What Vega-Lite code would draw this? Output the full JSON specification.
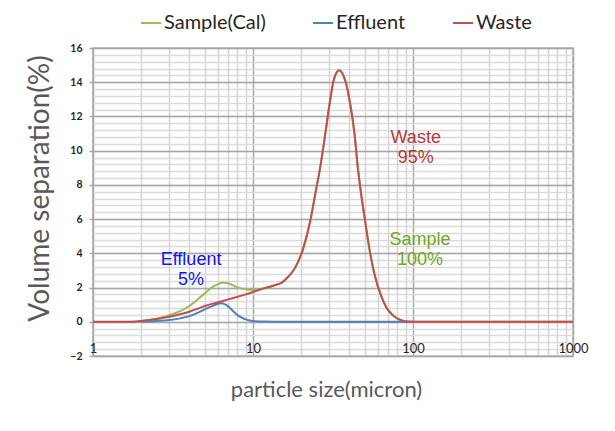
{
  "$schema": "https://vega.github.io/schema/vega-lite/v6.json",
  "width": 480,
  "height": 308,
  "autosize": "none",
  "padding": {"left": 93, "top": 48, "right": 42, "bottom": 75},
  "background": "white",
  "config": {
    "font": "Lato",
    "view": {"stroke": "#a6a6a6", "strokeWidth": 1.5}
  },
  "datasets": {
    "curves": [
      {"series": "Sample(Cal)", "size": 2, "volume": 0.05},
      {"series": "Sample(Cal)", "size": 2.5, "volume": 0.18},
      {"series": "Sample(Cal)", "size": 3, "volume": 0.39},
      {"series": "Sample(Cal)", "size": 3.5, "volume": 0.62},
      {"series": "Sample(Cal)", "size": 4, "volume": 0.92},
      {"series": "Sample(Cal)", "size": 4.5, "volume": 1.3},
      {"series": "Sample(Cal)", "size": 5, "volume": 1.66},
      {"series": "Sample(Cal)", "size": 5.5, "volume": 2.0},
      {"series": "Sample(Cal)", "size": 6, "volume": 2.19},
      {"series": "Sample(Cal)", "size": 6.5, "volume": 2.28},
      {"series": "Sample(Cal)", "size": 7, "volume": 2.25},
      {"series": "Sample(Cal)", "size": 7.5, "volume": 2.13},
      {"series": "Sample(Cal)", "size": 8, "volume": 2.01},
      {"series": "Sample(Cal)", "size": 9, "volume": 1.9},
      {"series": "Sample(Cal)", "size": 10, "volume": 1.86},
      {"series": "Sample(Cal)", "size": 11, "volume": 1.9},
      {"series": "Sample(Cal)", "size": 12, "volume": 1.99},
      {"series": "Sample(Cal)", "size": 13.5, "volume": 2.12},
      {"series": "Sample(Cal)", "size": 15.2, "volume": 2.3},
      {"series": "Sample(Cal)", "size": 16.5, "volume": 2.6},
      {"series": "Sample(Cal)", "size": 18.4, "volume": 3.18},
      {"series": "Sample(Cal)", "size": 20.7, "volume": 4.35},
      {"series": "Sample(Cal)", "size": 22.8, "volume": 5.9},
      {"series": "Sample(Cal)", "size": 24.5, "volume": 7.47},
      {"series": "Sample(Cal)", "size": 26.3, "volume": 9.02},
      {"series": "Sample(Cal)", "size": 28.3, "volume": 10.98},
      {"series": "Sample(Cal)", "size": 30.1, "volume": 12.73},
      {"series": "Sample(Cal)", "size": 31.9, "volume": 14.1},
      {"series": "Sample(Cal)", "size": 33.2, "volume": 14.55},
      {"series": "Sample(Cal)", "size": 34.6, "volume": 14.7},
      {"series": "Sample(Cal)", "size": 36, "volume": 14.55},
      {"series": "Sample(Cal)", "size": 37.7, "volume": 14.1},
      {"series": "Sample(Cal)", "size": 40.5, "volume": 12.73},
      {"series": "Sample(Cal)", "size": 43.1, "volume": 10.98},
      {"series": "Sample(Cal)", "size": 45.2, "volume": 9.02},
      {"series": "Sample(Cal)", "size": 47.4, "volume": 7.47},
      {"series": "Sample(Cal)", "size": 50.2, "volume": 5.9},
      {"series": "Sample(Cal)", "size": 53.2, "volume": 4.35},
      {"series": "Sample(Cal)", "size": 57.4, "volume": 2.79},
      {"series": "Sample(Cal)", "size": 63.8, "volume": 1.42},
      {"series": "Sample(Cal)", "size": 68, "volume": 0.85},
      {"series": "Sample(Cal)", "size": 73.6, "volume": 0.45},
      {"series": "Sample(Cal)", "size": 80, "volume": 0.18},
      {"series": "Sample(Cal)", "size": 89, "volume": 0.03},
      {"series": "Sample(Cal)", "size": 100, "volume": 0},
      {"series": "Sample(Cal)", "size": 1000, "volume": 0},
      {"series": "Effluent", "size": 2, "volume": 0.02},
      {"series": "Effluent", "size": 2.5, "volume": 0.05},
      {"series": "Effluent", "size": 3, "volume": 0.1},
      {"series": "Effluent", "size": 3.5, "volume": 0.2},
      {"series": "Effluent", "size": 4, "volume": 0.33},
      {"series": "Effluent", "size": 4.5, "volume": 0.52},
      {"series": "Effluent", "size": 5, "volume": 0.72},
      {"series": "Effluent", "size": 5.5, "volume": 0.9},
      {"series": "Effluent", "size": 6, "volume": 1.04},
      {"series": "Effluent", "size": 6.3, "volume": 1.08},
      {"series": "Effluent", "size": 6.7, "volume": 1.02},
      {"series": "Effluent", "size": 7, "volume": 0.9},
      {"series": "Effluent", "size": 7.5, "volume": 0.63},
      {"series": "Effluent", "size": 8, "volume": 0.39},
      {"series": "Effluent", "size": 8.5, "volume": 0.24},
      {"series": "Effluent", "size": 9, "volume": 0.14},
      {"series": "Effluent", "size": 10, "volume": 0.04},
      {"series": "Effluent", "size": 12, "volume": 0.01},
      {"series": "Effluent", "size": 15, "volume": 0},
      {"series": "Effluent", "size": 30, "volume": 0},
      {"series": "Effluent", "size": 100, "volume": 0},
      {"series": "Waste", "size": 1, "volume": 0},
      {"series": "Waste", "size": 1.5, "volume": 0},
      {"series": "Waste", "size": 2, "volume": 0.05},
      {"series": "Waste", "size": 2.5, "volume": 0.16},
      {"series": "Waste", "size": 3, "volume": 0.29},
      {"series": "Waste", "size": 3.5, "volume": 0.44},
      {"series": "Waste", "size": 4, "volume": 0.59},
      {"series": "Waste", "size": 4.5, "volume": 0.76},
      {"series": "Waste", "size": 5, "volume": 0.92},
      {"series": "Waste", "size": 6, "volume": 1.13},
      {"series": "Waste", "size": 7, "volume": 1.31},
      {"series": "Waste", "size": 8, "volume": 1.46},
      {"series": "Waste", "size": 9, "volume": 1.6},
      {"series": "Waste", "size": 10, "volume": 1.74},
      {"series": "Waste", "size": 11, "volume": 1.87},
      {"series": "Waste", "size": 12, "volume": 1.98},
      {"series": "Waste", "size": 13.5, "volume": 2.12},
      {"series": "Waste", "size": 15.2, "volume": 2.3},
      {"series": "Waste", "size": 16.5, "volume": 2.6},
      {"series": "Waste", "size": 18.4, "volume": 3.18},
      {"series": "Waste", "size": 20.7, "volume": 4.35},
      {"series": "Waste", "size": 22.8, "volume": 5.9},
      {"series": "Waste", "size": 24.5, "volume": 7.47},
      {"series": "Waste", "size": 26.3, "volume": 9.02},
      {"series": "Waste", "size": 28.3, "volume": 10.98},
      {"series": "Waste", "size": 30.1, "volume": 12.73},
      {"series": "Waste", "size": 31.9, "volume": 14.1},
      {"series": "Waste", "size": 33.2, "volume": 14.55},
      {"series": "Waste", "size": 34.6, "volume": 14.7},
      {"series": "Waste", "size": 36, "volume": 14.55},
      {"series": "Waste", "size": 37.7, "volume": 14.1},
      {"series": "Waste", "size": 40.5, "volume": 12.73},
      {"series": "Waste", "size": 43.1, "volume": 10.98},
      {"series": "Waste", "size": 45.2, "volume": 9.02},
      {"series": "Waste", "size": 47.4, "volume": 7.47},
      {"series": "Waste", "size": 50.2, "volume": 5.9},
      {"series": "Waste", "size": 53.2, "volume": 4.35},
      {"series": "Waste", "size": 57.4, "volume": 2.79},
      {"series": "Waste", "size": 63.8, "volume": 1.42},
      {"series": "Waste", "size": 68, "volume": 0.85},
      {"series": "Waste", "size": 73.6, "volume": 0.45},
      {"series": "Waste", "size": 80, "volume": 0.18},
      {"series": "Waste", "size": 89, "volume": 0.03},
      {"series": "Waste", "size": 100, "volume": 0},
      {"series": "Waste", "size": 200, "volume": 0},
      {"series": "Waste", "size": 500, "volume": 0},
      {"series": "Waste", "size": 1000, "volume": 0}
    ],
    "notes": [
      {"group": "Effluent", "size": 4.1, "volume": 3.61, "text": "Effluent\n5%"},
      {"group": "Waste", "size": 104, "volume": 10.75, "text": "Waste\n95%"},
      {"group": "Sample", "size": 110.6, "volume": 4.78, "text": "Sample\n100%"}
    ]
  },
  "layer": [
    {
      "data": {"name": "curves"},
      "mark": {"type": "line", "interpolate": "monotone", "strokeWidth": 2, "clip": true},
      "encoding": {
        "x": {
          "field": "size", "type": "quantitative",
          "scale": {"type": "log", "domain": [1, 1000], "nice": false},
          "axis": {
            "orient": "bottom",
            "values": [2, 3, 4, 5, 6, 7, 8, 9, 20, 30, 40, 50, 60, 70, 80, 90, 200, 300, 400, 500, 600, 700, 800, 900],
            "labels": false, "ticks": false, "domain": false, "title": null,
            "grid": true, "gridColor": "#d2d2d2", "gridWidth": 1.5
          }
        },
        "y": {
          "field": "volume", "type": "quantitative",
          "scale": {"domain": [-2, 16], "nice": false, "zero": false},
          "axis": {
            "orient": "left",
            "values": [-2, -1.6, -1.2, -0.8, -0.4, 0, 0.4, 0.8, 1.2, 1.6, 2, 2.4, 2.8, 3.2, 3.6, 4, 4.4, 4.8, 5.2, 5.6, 6, 6.4, 6.8, 7.2, 7.6, 8, 8.4, 8.8, 9.2, 9.6, 10, 10.4, 10.8, 11.2, 11.6, 12, 12.4, 12.8, 13.2, 13.6, 14, 14.4, 14.8, 15.2, 15.6, 16],
            "labels": false, "ticks": false, "domain": false, "title": null,
            "grid": true, "gridColor": "#dadada", "gridWidth": 1.5
          }
        },
        "color": {
          "field": "series", "type": "nominal",
          "scale": {"domain": ["Sample(Cal)", "Effluent", "Waste"], "range": ["#9BBB59", "#4F81BD", "#C0504D"]},
          "legend": {
            "title": null, "orient": "none", "legendX": 47, "legendY": -36,
            "direction": "horizontal", "symbolType": "stroke", "symbolSize": 400,
            "symbolStrokeWidth": 2, "labelFontSize": 20, "labelColor": "#262626",
            "labelFont": "Lato", "columnPadding": 43, "labelOffset": 2, "padding": 0
          }
        }
      }
    },
    {
      "data": {"name": "notes"},
      "mark": {"type": "text", "lineBreak": "\n", "font": "Liberation Sans", "fontSize": 18, "lineHeight": 20, "align": "center", "baseline": "middle"},
      "encoding": {
        "x": {
          "field": "size", "type": "quantitative",
          "scale": {"type": "log", "domain": [1, 1000], "nice": false},
          "axis": {
            "orient": "bottom",
            "values": [1, 10, 100, 1000], "format": "d",
            "ticks": false, "domain": false, "labelFlush": false,
            "labelFontSize": 13, "labelColor": "#262626", "labelBaseline": "middle", "labelPadding": -8,
            "grid": true, "gridColor": "#a6a6a6", "gridWidth": 1.5,
            "title": "particle size(micron)", "titleFontSize": 22, "titleFontWeight": "normal",
            "titleColor": "#595959", "titleBaseline": "middle", "titleAlign": "center", "titleX": 233, "titleY": 33
          }
        },
        "y": {
          "field": "volume", "type": "quantitative",
          "scale": {"domain": [-2, 16], "nice": false, "zero": false},
          "axis": {
            "orient": "left",
            "values": [-2, 0, 2, 4, 6, 8, 10, 12, 14, 16],
            "domain": false, "ticks": true, "tickSize": 4, "tickColor": "#a6a6a6", "tickWidth": 1.5,
            "labelFontSize": 10.5, "labelFontWeight": "bold", "labelColor": "#262626", "labelPadding": 7,
            "grid": true, "gridColor": "#a6a6a6", "gridWidth": 1.5,
            "title": "Volume separation(%)", "titleFontSize": 28, "titleFontWeight": "normal",
            "titleColor": "#595959", "titleX": -53, "titleY": 140, "titleAlign": "center", "titleBaseline": "middle", "titleAngle": -90
          }
        },
        "text": {"field": "text"},
        "color": {
          "field": "group", "type": "nominal",
          "scale": {"domain": ["Effluent", "Waste", "Sample"], "range": ["#1414F0", "#B83A36", "#6FA81E"]},
          "legend": null
        }
      }
    }
  ],
  "resolve": {"axis": {"x": "independent", "y": "independent"}, "scale": {"color": "independent"}}
}
